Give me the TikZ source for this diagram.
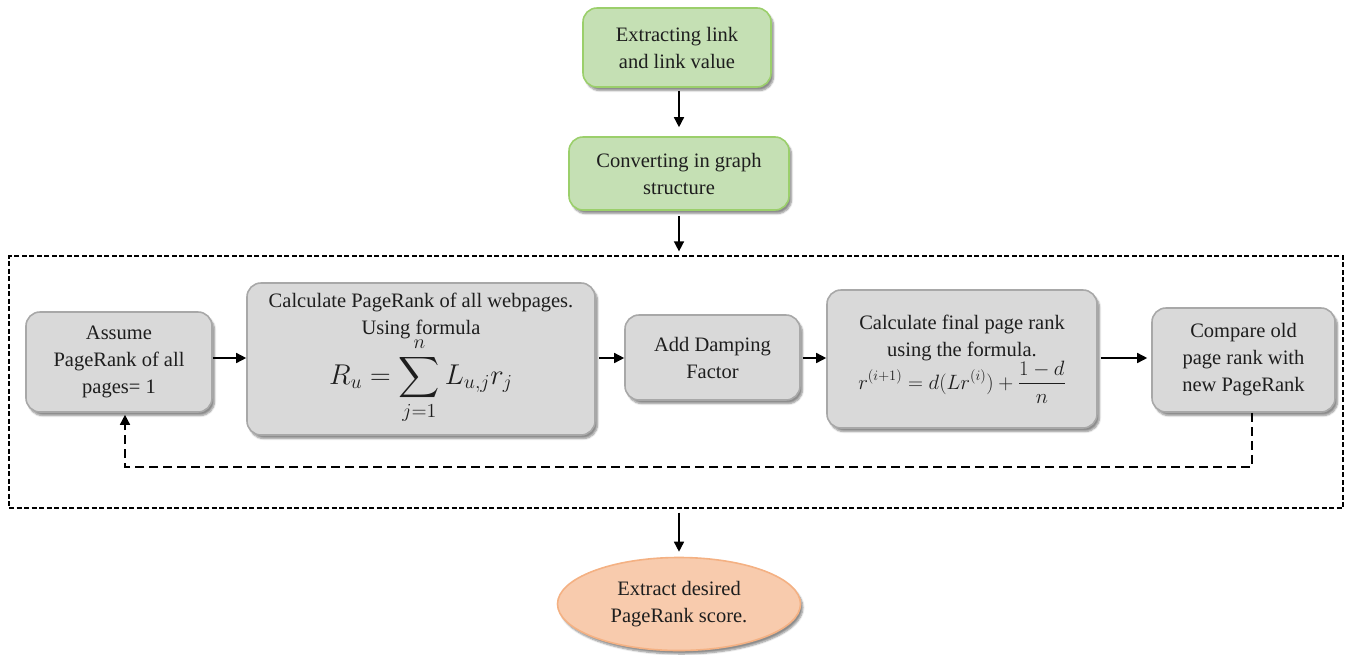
\documentclass[tikz,border=0pt]{standalone}
\usepackage{amsmath}
\usepackage{graphicx}
\usepackage{fontspec}
\setmainfont{Liberation Serif}
\usetikzlibrary{arrows.meta,shapes.geometric,shadows.blur,calc}

\definecolor{greenfill}{HTML}{C5E0B4}
\definecolor{greenline}{HTML}{9BCF6B}
\definecolor{grayfill}{HTML}{D9D9D9}
\definecolor{grayline}{HTML}{A8A8A8}
\definecolor{peachfill}{HTML}{F8CBAD}
\definecolor{peachline}{HTML}{F4B183}
\definecolor{ink}{HTML}{1E1E1E}

\tikzset{
  softshadow/.style={blur shadow={shadow xshift=2.5pt, shadow yshift=-3.5pt,
    shadow blur steps=6, shadow opacity=45}},
  boxbase/.style={rounded corners=14pt, line width=1.6pt, align=center,
    text=ink, inner sep=3pt, font=\fontsize{20.5}{27}\selectfont, softshadow},
  greenbox/.style={boxbase, draw=greenline, fill=greenfill},
  graybox/.style={boxbase, draw=grayline, fill=grayfill},
  endoval/.style={ellipse, draw=peachline, fill=peachfill, line width=1.6pt,
    align=center, text=ink, font=\fontsize{20.5}{27}\selectfont, softshadow},
  frame/.style={draw=black, line width=1.2pt, dash pattern=on 5pt off 2.5pt},
  flow/.style={draw=black, line width=1.5pt, -{Triangle[length=10pt,width=10pt]}},
  loopback/.style={flow, dash pattern=on 9pt off 5pt},
}

\begin{document}
\begin{tikzpicture}[x=1pt,y=-1pt]
\useasboundingbox (0,0) rectangle (1350,654);

% top stages
\node[greenbox, minimum width=188pt, minimum height=79pt] (g1) at (677,47.5)
  {Extracting link\\and link value};
\node[greenbox, minimum width=220pt, minimum height=73pt] (g2) at (679,173.5)
  {Converting in graph\\structure};

% iteration frame
\node[frame, minimum width=1334pt, minimum height=252pt, inner sep=0pt] (frm) at (676,382) {};

% iteration steps
\node[graybox, inner sep=0pt, minimum width=348pt, minimum height=152pt] (B) at (421,359)
  {Calculate PageRank of all webpages.\\Using formula\\[-3pt]
   \scalebox{1.38}{$\displaystyle R_u=\sum_{j=1}^{n} L_{u,j}r_j$}};
\node[graybox, minimum width=186pt, minimum height=100pt] (A) at (119,362)
  {Assume\\PageRank of all\\pages= 1};
\node[graybox, minimum width=175pt, minimum height=85pt] (C) at (712.5,357.5)
  {Add Damping\\Factor};
\node[graybox, minimum width=270pt, minimum height=138pt] (D) at (962,359)
  {Calculate final page rank\\using the formula.\\[-1pt]
   {\fontsize{21}{24}\selectfont $\displaystyle r^{(i+1)}=d(Lr^{(i)})+\frac{1-d}{n}$}};
\node[graybox, minimum width=183pt, minimum height=104pt] (E) at (1243.5,360)
  {Compare old\\page rank with\\new PageRank};

% result
\node[endoval, minimum width=243pt, minimum height=93pt] (X) at (679,604)
  {Extract desired\\PageRank score.};

% connectors
\coordinate (lane) at (0,358);
\draw[flow, shorten <=3pt, shorten >=9pt] (g1.south -| 679,0) -- (g2.north);
\draw[flow, shorten <=5pt, shorten >=4pt] (g2.south) -- (frm.north -| g2.south);
\draw[flow] (A.east |- lane) -- (B.west |- lane);
\draw[flow, shorten <=3pt] (B.east |- lane) -- (C.west |- lane);
\draw[flow, shorten <=2pt] (C.east |- lane) -- (D.west |- lane);
\draw[flow, shorten <=3pt, shorten >=4pt] (D.east |- lane) -- (E.west |- lane);
\draw[flow, shorten <=4pt, shorten >=5pt] (frm.south -| X.north) -- (X.north);

% feedback loop
\coordinate (fbR) at (1252,467);
\coordinate (fbL) at (125,467);
\draw[loopback, shorten >=2pt] (E.south -| fbR) -- (fbR) -- (fbL) -- (fbL |- A.south);
\end{tikzpicture}
\end{document}
